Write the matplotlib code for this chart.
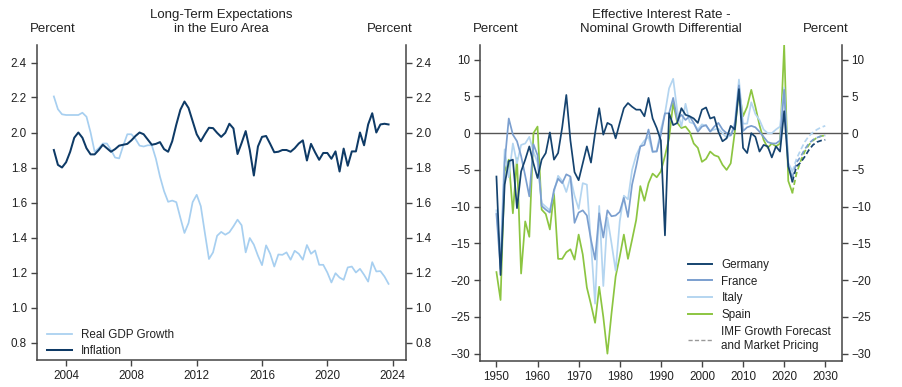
import matplotlib
matplotlib.use("Agg")
import matplotlib.pyplot as plt
import numpy as np
from matplotlib.lines import Line2D

plt.rcParams['font.family'] = ['Liberation Sans', 'DejaVu Sans']

# ---------------- Left panel data (quarterly, 2003Q2 .. 2023Q4) ----------------
q_start = 2003.25
inflation = [1.90, 1.815, 1.80, 1.83, 1.89, 1.97, 2.00, 1.97, 1.91, 1.875, 1.875, 1.90,
             1.93, 1.91, 1.89, 1.905, 1.925, 1.93, 1.935, 1.955, 1.98, 2.00, 1.99, 1.96,
             1.93, 1.935, 1.945, 1.905, 1.89, 1.95, 2.045, 2.13, 2.177, 2.14, 2.065, 1.99,
             1.95, 1.99, 2.027, 2.025, 1.998, 1.975, 1.998, 2.05, 2.023, 1.877, 1.94, 2.008,
             1.90, 1.754, 1.92, 1.975, 1.98, 1.935, 1.887, 1.89, 1.90, 1.90, 1.89, 1.91,
             1.937, 1.955, 1.84, 1.935, 1.887, 1.844, 1.883, 1.883, 1.85, 1.892, 1.777, 1.908,
             1.81, 1.892, 1.892, 2.00, 1.927, 2.046, 2.11, 2.00, 2.046, 2.05, 2.046]
gdp = [2.206, 2.133, 2.104, 2.10, 2.10, 2.10, 2.10, 2.113, 2.09, 2.00, 1.89, 1.91,
       1.937, 1.937, 1.90, 1.857, 1.852, 1.925, 1.99, 1.99, 1.963, 1.925, 1.92, 1.927,
       1.927, 1.85, 1.748, 1.665, 1.604, 1.611, 1.602, 1.512, 1.426, 1.483, 1.602, 1.644,
       1.579, 1.426, 1.277, 1.315, 1.41, 1.432, 1.416, 1.43, 1.464, 1.502, 1.47, 1.315,
       1.397, 1.359, 1.296, 1.242, 1.355, 1.307, 1.234, 1.303, 1.301, 1.315, 1.273, 1.324,
       1.307, 1.273, 1.357, 1.307, 1.326, 1.244, 1.244, 1.20, 1.143, 1.196, 1.171, 1.158,
       1.229, 1.234, 1.20, 1.221, 1.187, 1.148, 1.259, 1.206, 1.208, 1.177, 1.135]
left_xticks = [2004, 2008, 2012, 2016, 2020, 2024]
left_yticks = [0.8, 1.0, 1.2, 1.4, 1.6, 1.8, 2.0, 2.2, 2.4]

# ---------------- Right panel data (annual) ----------------
hist_start = 1950
germany = [-5.9, -19.3, -7.0, -3.8, -3.6, -10.2, -5.2, -3.6, -1.8, -4.1,
           -6.1, -3.6, -2.7, 0.1, -3.6, -2.7, 0.8, 5.2, -1.0, -5.3,
           -6.4, -4.1, -1.8, -4.0, 0.0, 3.4, -0.2, 1.4, 1.1, -0.7,
           1.4, 3.4, 4.1, 3.6, 3.2, 3.2, 2.3, 4.8, 2.0, 0.7,
           -1.0, -13.9, 2.7, 1.1, 1.4, 3.4, 2.5, 2.3, 2.0, 1.4,
           3.2, 3.5, 2.0, 2.2, 0.2, -1.1, -0.7, 1.0, 0.5, 6.0,
           -2.0, -2.7, 0.0, -0.5, -2.5, -1.6, -1.8, -3.3, -1.8, -2.5,
           3.0, -4.5, -6.6]
france = [-11.0, -18.5, -4.0, 2.0, -0.2, -1.1, -3.1, -5.8, -8.6, -1.5,
          -3.0, -9.9, -10.4, -10.8, -7.7, -6.2, -6.8, -5.6, -5.9, -12.2,
          -10.8, -10.5, -11.2, -14.5, -17.2, -10.9, -14.2, -10.5, -11.3, -11.2,
          -10.7, -8.8, -11.4, -7.0, -4.5, -1.8, -1.6, 0.5, -2.5, -2.5,
          -0.2, 2.7, 2.7, 4.8, 1.8, 2.5, 1.8, 2.3, 1.4, 0.2,
          0.9, 1.1, 0.2, 0.9, 1.4, 0.5, 0.0, -0.3, 1.0, 6.5,
          0.3, 0.8, 1.0, 0.8, 0.2, -0.5, -1.2, -1.4, -1.4, -1.0,
          5.9, -4.5, -6.0]
italy = [-10.5, -17.0, -2.2, -6.0, -1.4, -4.1, -1.6, -1.4, -0.5, -2.5,
         -4.0, -9.5, -10.0, -10.5, -8.0, -5.8, -6.5, -8.0, -6.0, -8.5,
         -10.3, -6.8, -7.0, -15.0, -23.2, -9.9, -20.8, -11.5, -15.0, -18.7,
         -12.0, -8.5, -9.0, -5.0, -3.0, -1.8, -1.0, -0.5, -2.6, -2.4,
         0.5, 2.7, 6.1, 7.4, 3.0, 0.9, 4.0, 1.5, 1.3, 0.5,
         1.2, 1.0, 0.3, 0.5, 0.6, 0.0, -0.6, -0.3, 1.5, 7.3,
         1.3, 1.3, 4.2, 2.6, 1.8, 0.5, 0.0, 0.0, 0.5, 0.9,
         6.2, -4.0, -5.2]
spain = [-18.9, -22.7, -5.2, -3.6, -10.9, -3.4, -19.1, -12.0, -14.1, 0.0,
         0.9, -10.4, -11.0, -13.1, -8.2, -17.1, -17.1, -16.2, -15.8, -17.2,
         -13.8, -16.5, -21.0, -23.3, -25.8, -20.9, -25.0, -30.0, -24.5, -19.5,
         -16.8, -13.8, -17.1, -14.5, -11.8, -7.2, -9.2, -6.8, -5.5, -6.0,
         -5.2, -3.1, -0.7, 4.1, 1.4, 0.7, 0.9, 0.2, -1.4, -2.0,
         -3.9, -3.5, -2.5, -3.0, -3.2, -4.3, -5.0, -4.1, 0.2, 5.9,
         2.3, 3.6, 5.9, 3.6, 1.1, -0.9, -2.0, -1.4, -1.8, -1.4,
         12.0, -6.5, -8.1]
fc_start = 2022
germany_fc = [-6.6, -4.5, -4.0, -3.2, -2.3, -1.6, -1.2, -1.0, -0.9]
france_fc = [-6.0, -4.0, -3.2, -2.2, -1.4, -0.9, -0.6, -0.4, -0.3]
italy_fc = [-5.2, -3.5, -2.3, -1.2, -0.4, 0.1, 0.5, 0.8, 1.0]
spain_fc = [-8.1, -5.5, -3.8, -2.5, -1.6, -1.0, -0.6, -0.4, -0.3]
right_xticks = [1950, 1960, 1970, 1980, 1990, 2000, 2010, 2020, 2030]
right_yticks = [-30, -25, -20, -15, -10, -5, 0, 5, 10]

# ---------------- Styles ----------------
C_NAVY = '#0e3a66'
C_GER = '#15436f'
C_FRA = '#7b9fcf'
C_ITA = '#b4d5f0'
C_ESP = '#8cc541'
C_GDP = '#a7cff0'
SPINE = '#444444'
TXT = '#222222'

W, H = 903, 387
fig = plt.figure(figsize=(W / 100, H / 100), dpi=100)

def style_axes(ax):
    ax.spines['top'].set_visible(False)
    for s in ('left', 'right', 'bottom'):
        ax.spines[s].set_color(SPINE)
        ax.spines[s].set_linewidth(1.1)
    ax.tick_params(axis='both', which='both', direction='out', length=4, width=1,
                   color=SPINE, labelcolor=TXT, labelsize=8.4, pad=3)
    ax.tick_params(axis='y', left=True, right=True, labelleft=True, labelright=True)

# ----- Left panel -----
axL = fig.add_axes([36.7 / W, 27 / H, (405.7 - 36.7) / W, (360 - 45) / H])
style_axes(axL)
qx = q_start + 0.25 * np.arange(len(inflation))
axL.plot(qx, gdp, color=C_GDP, lw=1.25, label='Real GDP Growth')
axL.plot(qx, inflation, color=C_NAVY, lw=1.45, label='Inflation')
axL.set_xlim(2002.2, 2024.8)
axL.set_ylim(0.7, 2.5)
axL.set_xticks(left_xticks)
axL.set_yticks(left_yticks)
axL.set_yticklabels([f'{v:.1f}' for v in left_yticks])
axL.legend(loc='lower left', frameon=False, fontsize=8.4, handlelength=2.1,
           handletextpad=0.8, labelspacing=0.4, bbox_to_anchor=(0.0, -0.025),
           labelcolor=TXT)

# ----- Right panel -----
axR = fig.add_axes([480 / W, 26 / H, (841.7 - 480) / W, (361 - 45) / H])
style_axes(axR)
hx = hist_start + np.arange(len(germany))
fx = fc_start + np.arange(len(germany_fc))
axR.axhline(0, color='#555555', lw=1.0, zorder=1)
for vals, fc, col, lab in [(germany, germany_fc, C_GER, 'Germany'),
                           (france, france_fc, C_FRA, 'France'),
                           (italy, italy_fc, C_ITA, 'Italy'),
                           (spain, spain_fc, C_ESP, 'Spain')][::-1]:
    axR.plot(hx, vals, color=col, lw=1.25, zorder=3)
    axR.plot(fx, fc, color=col, lw=1.25, ls=(0, (3, 1.6)), zorder=3)
axR.set_xlim(1946, 2034)
axR.set_ylim(-31, 12)
axR.set_xticks(right_xticks)
axR.set_yticks(right_yticks)
handles = [Line2D([], [], color=C_GER, lw=1.4),
           Line2D([], [], color=C_FRA, lw=1.4),
           Line2D([], [], color=C_ITA, lw=1.4),
           Line2D([], [], color=C_ESP, lw=1.4),
           Line2D([], [], color='#999999', lw=1.0, ls=(0, (3, 1.6)))]
labels = ['Germany', 'France', 'Italy', 'Spain', 'IMF Growth Forecast\nand Market Pricing']
axR.legend(handles, labels, loc='lower left', frameon=False, fontsize=8.4,
           handlelength=2.1, handletextpad=0.8, labelspacing=0.42,
           bbox_to_anchor=(0.545, -0.005), labelcolor=TXT)

# ----- Titles and unit labels -----
fs_t = 9.5
fig.text(221 / W, 1 - 22.3 / H, 'Long-Term Expectations\nin the Euro Area', ha='center',
         va='center', fontsize=fs_t, color=TXT, linespacing=1.25)
fig.text(661 / W, 1 - 22.3 / H, 'Effective Interest Rate -\nNominal Growth Differential',
         ha='center', va='center', fontsize=fs_t, color=TXT, linespacing=1.25)
fig.text(30 / W, 1 - 29.3 / H, 'Percent', ha='left', va='center', fontsize=fs_t, color=TXT)
fig.text(413 / W, 1 - 29.3 / H, 'Percent', ha='right', va='center', fontsize=fs_t, color=TXT)
fig.text(473 / W, 1 - 29.3 / H, 'Percent', ha='left', va='center', fontsize=fs_t, color=TXT)
fig.text(849 / W, 1 - 29.3 / H, 'Percent', ha='right', va='center', fontsize=fs_t, color=TXT)

fig.savefig('out.png', dpi=100)
